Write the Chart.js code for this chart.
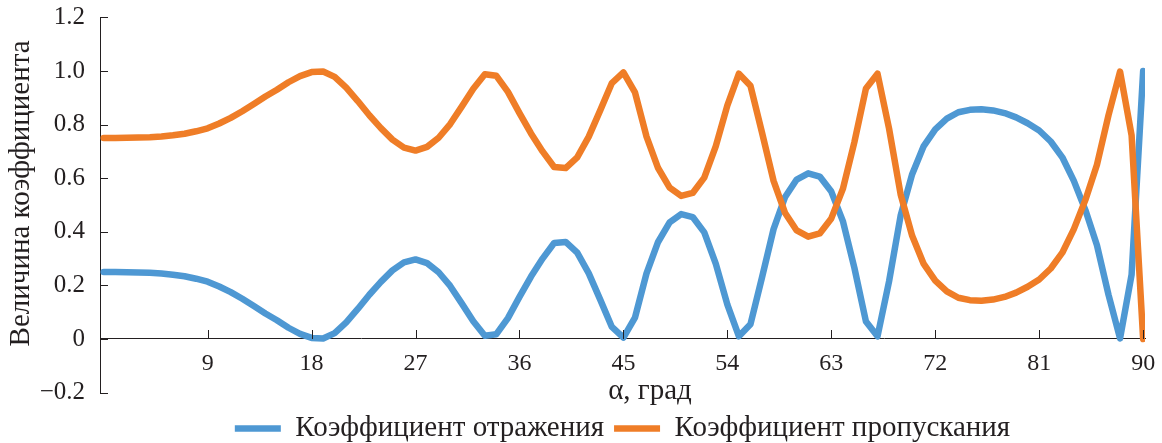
<!DOCTYPE html>
<html>
<head>
<meta charset="utf-8">
<script src="https://cdn.jsdelivr.net/npm/chart.js@4.4.1/dist/chart.umd.min.js"></script>
<style>
  html, body { margin: 0; padding: 0; background: #fff; }
  #wrap { width: 1162px; height: 443px; }
</style>
</head>
<body>
<div id="wrap"><canvas id="chart"></canvas></div>
<script>
  // angle, degrees
  const angles = [
    0, 1, 2, 3, 4, 5, 6, 7, 8, 9,
    10, 11, 12, 13, 14, 15, 16, 17, 18, 19,
    20, 21, 22, 23, 24, 25, 26, 27, 28, 29,
    30, 31, 32, 33, 34, 35, 36, 37, 38, 39,
    40, 41, 42, 43, 44, 45, 46, 47, 48, 49,
    50, 51, 52, 53, 54, 55, 56, 57, 58, 59,
    60, 61, 62, 63, 64, 65, 66, 67, 68, 69,
    70, 71, 72, 73, 74, 75, 76, 77, 78, 79,
    80, 81, 82, 83, 84, 85, 86, 87, 88, 89,
    90,
  ];

  // Коэффициент отражения
  const reflection = [
    0.250, 0.250, 0.249, 0.248, 0.247, 0.244, 0.240, 0.234, 0.225, 0.214,
    0.196, 0.175, 0.150, 0.123, 0.095, 0.070, 0.042, 0.019, 0.004, 0.002,
    0.022, 0.062, 0.112, 0.165, 0.213, 0.256, 0.286, 0.297, 0.283, 0.249,
    0.198, 0.133, 0.066, 0.012, 0.018, 0.078, 0.157, 0.233, 0.300, 0.358,
    0.362, 0.322, 0.245, 0.146, 0.045, 0.005, 0.080, 0.245, 0.362, 0.435,
    0.466, 0.455, 0.398, 0.280, 0.128, 0.010, 0.055, 0.230, 0.410, 0.530,
    0.595, 0.618, 0.606, 0.550, 0.440, 0.265, 0.065, 0.010, 0.215, 0.460,
    0.615, 0.720, 0.782, 0.822, 0.846, 0.855, 0.857, 0.853, 0.843, 0.827,
    0.805, 0.778, 0.737, 0.678, 0.590, 0.481, 0.350, 0.165, 0.002, 0.240,
    1.000,
  ];

  // Коэффициент пропускания
  const transmission = [
    0.750, 0.750, 0.751, 0.752, 0.753, 0.756, 0.760, 0.766, 0.775, 0.786,
    0.804, 0.825, 0.850, 0.877, 0.905, 0.930, 0.958, 0.981, 0.996, 0.998,
    0.978, 0.938, 0.888, 0.835, 0.787, 0.744, 0.714, 0.703, 0.717, 0.751,
    0.802, 0.867, 0.934, 0.988, 0.982, 0.922, 0.843, 0.767, 0.700, 0.642,
    0.638, 0.678, 0.755, 0.854, 0.955, 0.995, 0.920, 0.755, 0.638, 0.565,
    0.534, 0.545, 0.602, 0.720, 0.872, 0.990, 0.945, 0.770, 0.590, 0.470,
    0.405, 0.382, 0.394, 0.450, 0.560, 0.735, 0.935, 0.990, 0.785, 0.540,
    0.385, 0.280, 0.218, 0.178, 0.154, 0.145, 0.143, 0.147, 0.157, 0.173,
    0.195, 0.222, 0.263, 0.322, 0.410, 0.519, 0.650, 0.835, 0.998, 0.760,
    0.000,
  ];

  const xTicks = [9, 18, 27, 36, 45, 54, 63, 72, 81, 90];

  const ink = "#231f20";
  const serif = "'Liberation Serif', 'Times New Roman', serif";
  const xTitle = "α, град";
  const yTitle = "Величина коэффициента";

  // inward tick marks + axis titles
  const axisDecor = {
    id: "axisDecor",
    afterDraw(chart) {
      const { ctx, chartArea } = chart;
      const x = chart.scales.x,
        y = chart.scales.y;
      const y0 = Math.round(y.getPixelForValue(0));
      ctx.save();
      ctx.strokeStyle = ink;
      ctx.lineWidth = 1;
      ctx.beginPath();
      y.ticks.forEach((t) => {
        const py = Math.round(y.getPixelForValue(t.value)) + 0.5;
        ctx.moveTo(chartArea.left, py);
        ctx.lineTo(chartArea.left + 8, py);
      });
      x.ticks.forEach((t) => {
        const px = Math.round(x.getPixelForValue(t.value)) + 0.5;
        ctx.moveTo(px, y0);
        ctx.lineTo(px, y0 - 9);
      });
      ctx.stroke();

      ctx.fillStyle = ink;
      ctx.font = "29px " + serif;
      ctx.textAlign = "center";
      ctx.textBaseline = "middle";
      ctx.fillText(xTitle, chartArea.left + 550, chartArea.bottom - 1.6);
      ctx.translate(21, chartArea.top + 176);
      ctx.rotate(-Math.PI / 2);
      ctx.fillText(yTitle, 0, 0);
      ctx.restore();
    },
  };

  const data = {
    labels: angles,
    datasets: [
      {
        label: "Коэффициент отражения",
        data: reflection,
        borderColor: "#4e98d3",
        backgroundColor: "#4e98d3",
        borderWidth: 6.5,
        borderCapStyle: "round",
        borderJoinStyle: "round",
        pointRadius: 0,
        pointHoverRadius: 0,
        tension: 0,
        order: 1,
      },
      {
        label: "Коэффициент пропускания",
        data: transmission,
        borderColor: "#ef7d27",
        backgroundColor: "#ef7d27",
        borderWidth: 6.5,
        borderCapStyle: "round",
        borderJoinStyle: "round",
        pointRadius: 0,
        pointHoverRadius: 0,
        tension: 0,
        order: 0,
      },
    ],
  };

  const config = {
    type: "line",
    data: data,
    options: {
      responsive: true,
      maintainAspectRatio: false,
      animation: false,
      events: [],
      layout: {
        padding: { left: 0, right: 17, top: 17.4, bottom: -10 },
      },
      scales: {
        x: {
          type: "linear",
          position: { y: 0 },
          min: -0.32,
          max: 90.16,
          afterBuildTicks: (scale) => {
            scale.ticks = xTicks.map((v) => ({ value: v }));
          },
          ticks: {
            padding: 0,
            autoSkip: false,
            maxRotation: 0,
            color: ink,
            font: { family: serif, size: 24 },
            callback: (v) => String(v),
          },
          // hidden tick marks only push the labels away from the axis
          grid: {
            drawOnChartArea: false,
            drawTicks: true,
            tickLength: 10,
            tickColor: "rgba(0,0,0,0)",
          },
          border: { display: true, color: ink, width: 1 },
        },
        y: {
          position: "left",
          min: -0.2,
          max: 1.2,
          afterFit: (scale) => {
            scale.width = 100;
          },
          ticks: {
            stepSize: 0.2,
            padding: 0,
            color: ink,
            font: { family: serif, size: 25 },
            callback: (v) => {
              if (Math.abs(v) < 1e-9) return "0";
              return v < 0 ? "\u2212" + Math.abs(v).toFixed(1) : v.toFixed(1);
            },
          },
          grid: {
            drawOnChartArea: false,
            drawTicks: true,
            tickLength: 15,
            tickColor: "rgba(0,0,0,0)",
          },
          border: { display: true, color: ink, width: 1 },
        },
      },
      plugins: {
        tooltip: { enabled: false },
        legend: {
          position: "bottom",
          fullSize: false,
          title: { display: true, text: "", padding: 0, font: { size: 9.5 } },
          labels: {
            usePointStyle: true,
            pointStyle: "line",
            pointStyleWidth: 46,
            padding: 10,
            color: ink,
            font: { family: serif, size: 29 },
            sort: (a, b) => a.datasetIndex - b.datasetIndex,
          },
        },
      },
    },
    plugins: [axisDecor],
  };

  new Chart(document.getElementById("chart"), config);
</script>
</body>
</html>
